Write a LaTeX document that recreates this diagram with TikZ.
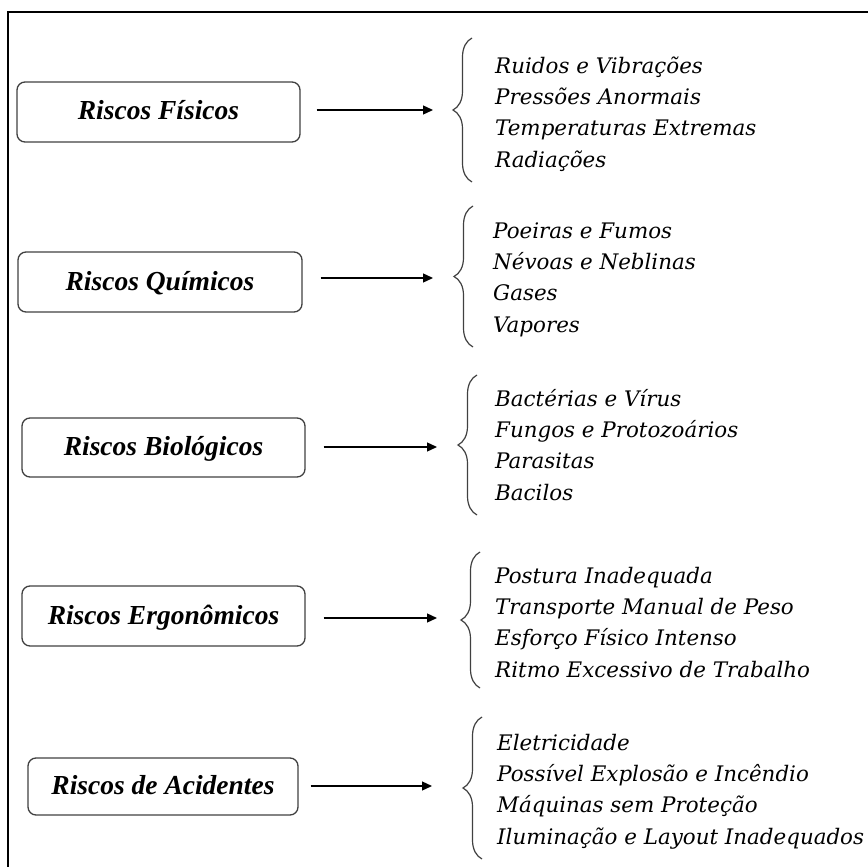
\documentclass[tikz,border=0pt]{standalone}
\usepackage{fontspec}
\setmainfont{Liberation Serif}
\newfontfamily\listfont{DejaVu Serif}
\usetikzlibrary{arrows.meta,decorations.pathreplacing}
\begin{document}
\begin{tikzpicture}[x=1pt,y=-1pt,
  riskbox/.style={draw=black!75, line width=1.3pt, rounded corners=8pt,
    font=\fontsize{27.5}{30}\selectfont\bfseries\itshape,
    text height=18pt, text depth=2pt, inner sep=0pt},
  listtext/.style={font=\fontsize{21.4}{31.3}\selectfont\listfont\itshape,
    align=left, anchor=base west, inner sep=0pt},
  arr/.style={line width=1.3pt, -{Triangle[length=10pt,width=9pt]}},
  bracestyle/.style={draw=black!75, line width=1.2pt, decorate,
    decoration={brace, amplitude=19pt}}
]
\useasboundingbox (0,0) rectangle (868,867);
\draw[line width=2pt] (7.5,870) -- (7.5,12) -- (870,12);

% boxes
\node[riskbox, minimum width=283pt, minimum height=60pt] (b1) at (158.5,112) {Riscos Físicos};
\node[riskbox, minimum width=284pt, minimum height=60pt] (b2) at (160,282) {Riscos Químicos};
\node[riskbox, minimum width=283pt, minimum height=59pt] (b3) at (163.5,447.5) {Riscos Biológicos};
\node[riskbox, minimum width=283pt, minimum height=60pt] (b4) at (163.5,616) {Riscos Ergonômicos};
\node[riskbox, minimum width=270pt, minimum height=57pt] (b5) at (163,786.5) {Riscos de Acidentes};

% lists (anchored at the baseline of their last line)
\node[listtext] (l1) at (495,167) {Ruidos e Vibrações\\Pressões Anormais\\Temperaturas Extremas\\Radiações};
\node[listtext] (l2) at (493,332) {Poeiras e Fumos\\Névoas e Neblinas\\Gases\\Vapores};
\node[listtext] (l3) at (495,500) {Bactérias e Vírus\\Fungos e Protozoários\\Parasitas\\Bacilos};
\node[listtext] (l4) at (495,677) {Postura Inadequada\\Transporte Manual de Peso\\Esforço Físico Intenso\\Ritmo Excessivo de Trabalho};
\node[listtext] (l5) at (497,844) {Eletricidade\\Possível Explosão e Incêndio\\Máquinas sem Proteção\\Iluminação e Layout Inadequados};

% braces
\coordinate (t1) at (472,38);  \coordinate (u1) at (472,182);
\coordinate (t2) at (473,206); \coordinate (u2) at (473,347);
\coordinate (t3) at (477,375); \coordinate (u3) at (477,515);
\coordinate (t4) at (480,552); \coordinate (u4) at (480,688);
\coordinate (t5) at (482,717); \coordinate (u5) at (482,859);
\foreach \i in {1,...,5} { \draw[bracestyle] (u\i) -- (t\i); }

% arrow ends
\coordinate (e1) at (433,110);
\coordinate (e2) at (433,278);
\coordinate (e3) at (437,447);
\coordinate (e4) at (437,618);
\coordinate (e5) at (432,786);
\draw[arr] ([xshift=16pt]b1.east |- e1) -- (e1);
\draw[arr] ([xshift=18pt]b2.east |- e2) -- (e2);
\draw[arr] ([xshift=18pt]b3.east |- e3) -- (e3);
\draw[arr] ([xshift=18pt]b4.east |- e4) -- (e4);
\draw[arr] ([xshift=12pt]b5.east |- e5) -- (e5);
\end{tikzpicture}
\end{document}
